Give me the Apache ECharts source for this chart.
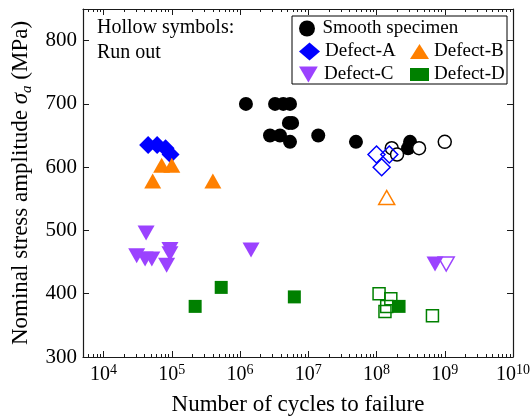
<!DOCTYPE html>
<html>
<head>
<meta charset="utf-8">
<script src="https://cdn.jsdelivr.net/npm/echarts@6/dist/echarts.min.js"></script>
<style>
html, body { margin: 0; padding: 0; background: #fff; }
#chart { width: 530px; height: 419px; }
</style>
</head>
<body>
<div id="chart"></div>
<script>
// S-N fatigue data: [number of cycles, stress amplitude (MPa)]
const smoothFailed = [[1.22e6, 700], [3.26e6, 700], [4.3e6, 700], [5.4e6, 700], [5.2e6, 670], [5.8e6, 670],
  [2.75e6, 650], [3.85e6, 650], [5.4e6, 640], [1.4e7, 650], [5.0e7, 640], [3.1e8, 640], [2.9e8, 630]];
const smoothRunout = [[1.67e8, 630], [2.0e8, 620], [4.2e8, 630], [1.0e9, 640]];

const defectAFailed = [[4.5e4, 635], [6.1e4, 635], [8.1e4, 630], [9.6e4, 620]];
const defectARunout = [[1.0e8, 620], [1.54e8, 620], [1.19e8, 600]];

const defectBFailed = [[7.1e4, 603], [1.0e5, 603], [5.25e4, 578], [4.0e5, 578]];
const defectBRunout = [[1.41e8, 552]];

const defectCFailed = [[4.2e4, 496], [3.06e4, 460], [4.06e4, 455], [5.1e4, 455], [9.4e4, 470], [9.4e4, 463],
  [8.4e4, 445], [1.45e6, 469], [7.2e8, 447]];
const defectCRunout = [[1.05e9, 447]];

const defectDFailed = [[2.2e5, 380], [5.3e5, 410], [6.25e6, 395], [2.14e8, 380]];
const defectDRunout = [[1.09e8, 400], [1.62e8, 392], [1.41e8, 380], [1.33e8, 372], [6.6e8, 365]];

// Axis ticks
const xMin = 5000, xMax = 1e10;
const xDecades = [1e4, 1e5, 1e6, 1e7, 1e8, 1e9, 1e10];
const yTicks = [300, 400, 500, 600, 700, 800];
const xMinorTicks = [];
for (let e = 3; e < 10; e++) {
  for (let k = 2; k <= 9; k++) {
    const v = k * Math.pow(10, e);
    if (v > xMin && v < xMax) xMinorTicks.push(v);
  }
}

const FONT = '"Liberation Serif", "Times New Roman", serif';
const AXIS_COLOR = '#1a1a1a';
const INV_TRIANGLE = 'path://M0,0L20,0L10,17Z';

const colors = {
  smooth: '#000000',
  a: '#0000ff',
  b: '#ff8000',
  c: '#9b42ff',
  d: '#008000'
};

function logAxis(position, ticks, len, withLine, withLabel) {
  return {
    type: 'log',
    logBase: 10,
    position: position,
    min: xMin,
    max: xMax,
    axisLine: { show: withLine, lineStyle: { color: AXIS_COLOR, width: 1.2 } },
    axisTick: { show: true, inside: true, length: len, customValues: ticks,
      lineStyle: { color: AXIS_COLOR, width: 1 } },
    axisLabel: withLabel ? {
      show: true,
      customValues: ticks,
      margin: 6,
      hideOverlap: false,
      formatter: function (v) {
        return '{b|10}{s|' + Math.round(Math.log10(v)) + '}';
      },
      rich: {
        b: { fontFamily: FONT, fontSize: 20, color: '#000', lineHeight: 24 },
        s: { fontFamily: FONT, fontSize: 14, color: '#000', lineHeight: 14, verticalAlign: 'top' }
      }
    } : { show: false },
    splitLine: { show: false },
    minorTick: { show: false }
  };
}

function valueAxis(position, withLabel) {
  return {
    type: 'value',
    position: position,
    min: 300,
    max: 850,
    interval: 100,
    axisLine: { show: true, lineStyle: { color: AXIS_COLOR, width: 1.2 } },
    axisTick: { show: true, inside: true, length: 6, customValues: yTicks,
      lineStyle: { color: AXIS_COLOR, width: 1 } },
    axisLabel: withLabel ? {
      show: true, customValues: yTicks, margin: 6,
      fontFamily: FONT, fontSize: 21, color: '#000'
    } : { show: false },
    splitLine: { show: false }
  };
}

function filled(name, data, symbol, size, color) {
  return {
    type: 'scatter', name: name, data: data, symbol: symbol, symbolSize: size,
    xAxisIndex: 0, yAxisIndex: 0,
    itemStyle: { color: color, opacity: 1 },
    emphasis: { disabled: true }
  };
}

function hollow(name, data, symbol, size, color, fill) {
  return {
    type: 'scatter', name: name, data: data, symbol: symbol, symbolSize: size,
    xAxisIndex: 0, yAxisIndex: 0,
    itemStyle: { color: fill, borderColor: color, borderWidth: 1.5, opacity: 1 },
    emphasis: { disabled: true }
  };
}

function legendAt(name, left, top, w, h) {
  return {
    data: [name],
    left: left, top: top,
    padding: 0,
    itemWidth: w, itemHeight: h,
    selectedMode: false,
    textStyle: { fontFamily: FONT, fontSize: 19, color: '#000' }
  };
}

const yName = 'Nominal stress amplitude {i|σ}{sub|a} (MPa)';

const option = {
  animation: false,
  backgroundColor: '#fff',
  grid: { left: 83, right: 17, top: 9, bottom: 62, containLabel: false, outerBoundsMode: 'none' },
  xAxis: [
    Object.assign(logAxis('bottom', xDecades, 6, true, true), {
      name: 'Number of cycles to failure',
      nameLocation: 'middle',
      nameGap: 36,
      nameTextStyle: { fontFamily: FONT, fontSize: 23, color: '#000' }
    }),
    logAxis('bottom', xMinorTicks, 3, false, false),
    logAxis('top', xDecades, 6, true, false),
    logAxis('top', xMinorTicks, 3, false, false)
  ],
  yAxis: [
    Object.assign(valueAxis('left', true), {
      name: yName,
      nameLocation: 'middle',
      nameGap: 48,
      nameTextStyle: {
        fontFamily: FONT, fontSize: 23, color: '#000',
        rich: {
          i: { fontFamily: FONT, fontSize: 23, fontStyle: 'italic', color: '#000', lineHeight: 27 },
          sub: { fontFamily: FONT, fontSize: 15, fontStyle: 'italic', color: '#000', lineHeight: 15, verticalAlign: 'bottom' }
        }
      }
    }),
    valueAxis('right', false)
  ],
  legend: [
    legendAt('Smooth specimen', 299, 19, 21, 16),
    legendAt('Defect-A', 299, 42, 21, 18),
    legendAt('Defect-B', 410, 42, 19, 15),
    legendAt('Defect-C', 299, 65, 21, 16),
    legendAt('Defect-D', 410, 65, 19, 13)
  ],
  graphic: [
    { type: 'rect', shape: { x: 292, y: 16, width: 215, height: 68 },
      style: { fill: 'rgba(0,0,0,0)', stroke: '#000', lineWidth: 1 }, z: 1 },
    { type: 'text', left: 97, top: 18,
      style: { text: 'Hollow symbols:', font: '20px ' + FONT, fill: '#000' } },
    { type: 'text', left: 97, top: 43,
      style: { text: 'Run out', font: '20px ' + FONT, fill: '#000' } }
  ],
  series: [
    filled('Smooth specimen', smoothFailed, 'circle', 14, colors.smooth),
    filled('Defect-A', defectAFailed, 'diamond', 18, colors.a),
    filled('Defect-B', defectBFailed, 'triangle', [17, 15], colors.b),
    filled('Defect-C', defectCFailed, INV_TRIANGLE, [17, 15], colors.c),
    filled('Defect-D', defectDFailed, 'rect', 13, colors.d),
    hollow('Smooth specimen run-out', smoothRunout, 'circle', 13, colors.smooth, '#fff'),
    hollow('Defect-A run-out', defectARunout, 'diamond', 17, colors.a, 'rgba(0,0,0,0)'),
    hollow('Defect-B run-out', defectBRunout, 'triangle', [16, 14], colors.b, 'rgba(0,0,0,0)'),
    hollow('Defect-C run-out', defectCRunout, INV_TRIANGLE, [16, 14], colors.c, 'rgba(0,0,0,0)'),
    hollow('Defect-D run-out', defectDRunout, 'rect', 12, colors.d, 'rgba(0,0,0,0)')
  ]
};

const chart = echarts.init(document.getElementById('chart'), null, { renderer: 'canvas' });
chart.setOption(option);
</script>
</body>
</html>
